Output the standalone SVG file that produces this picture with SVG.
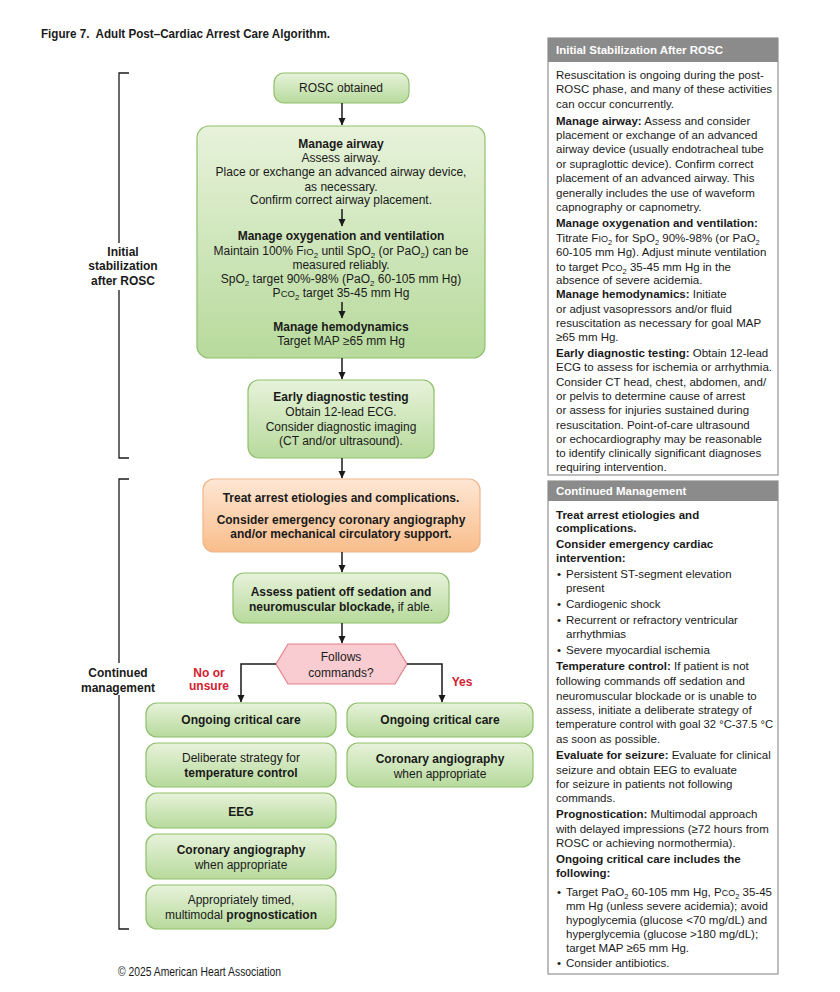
<svg xmlns="http://www.w3.org/2000/svg" width="840" height="992" viewBox="0 0 840 992">
<defs>
<style>
.t{font-family:"Liberation Sans",Arial,sans-serif;font-size:12px;fill:#1a1a1a}
.c{text-anchor:middle}
.b{font-weight:bold}
.p{font-size:11.5px}
.red{fill:#d3202f;font-weight:bold}
.g{fill:url(#gg);stroke:#8fc06d;stroke-width:1.2}
.o{fill:url(#og);stroke:#f0b58a;stroke-width:1.2}
.br{fill:none;stroke:#1a1a1a;stroke-width:1.3}
.ar{fill:none;stroke:#1a1a1a;stroke-width:1.5;marker-end:url(#ah)}
.hd{fill:#8b8b8b}
.pb{fill:#fff;stroke:#9b9b9b;stroke-width:1.3}
.w{fill:#fff;font-weight:bold}
</style>
<linearGradient id="gg" x1="0" y1="0" x2="0" y2="1"><stop offset="0" stop-color="#e7f2da"/><stop offset="1" stop-color="#b7da9c"/></linearGradient>
<linearGradient id="og" x1="0" y1="0" x2="0" y2="1"><stop offset="0" stop-color="#fee7d4"/><stop offset="1" stop-color="#f9bd8b"/></linearGradient>
<marker id="ah" markerWidth="8" markerHeight="8" refX="7" refY="4" orient="auto" markerUnits="userSpaceOnUse"><path d="M0,0.5 L7.5,4 L0,7.5 z" fill="#1a1a1a"/></marker>
</defs>
<rect width="840" height="992" fill="#fff"/>
<text class="t b" x="41" y="38" font-size="13" textLength="289" lengthAdjust="spacingAndGlyphs" xml:space="preserve">Figure 7.  Adult Post–Cardiac Arrest Care Algorithm.</text>

<g id="brackets">
<path class="br" d="M129,73 H119 V243 M119,290 V458 H129"/>
<path class="br" d="M129,479 H119 V663 M119,695 V929 H129"/>
<text class="t b c" x="123" y="256">Initial</text>
<text class="t b c" x="123" y="270">stabilization</text>
<text class="t b c" x="123" y="285">after ROSC</text>
<text class="t b c" x="118" y="677">Continued</text>
<text class="t b c" x="118" y="692">management</text>
</g>

<g id="rosc">
<rect class="g" x="274" y="73" width="135" height="30" rx="10"/>
<text class="t c" x="341" y="92">ROSC obtained</text>
</g>

<g id="stabilize">
<rect class="g" x="197" y="126" width="288" height="232" rx="12"/>
<text class="t c b" x="341" y="148">Manage airway</text>
<text class="t c" x="341" y="162">Assess airway.</text>
<text class="t c" x="341" y="176">Place or exchange an advanced airway device,</text>
<text class="t c" x="341" y="191">as necessary.</text>
<text class="t c" x="341" y="204">Confirm correct airway placement.</text>
<text class="t c b" x="341" y="240">Manage oxygenation and ventilation</text>
<text class="t c" x="341" y="255">Maintain 100% F<tspan font-size="9.5">IO</tspan><tspan dy="2.5" font-size="8">2</tspan><tspan dy="-2.5"> until SpO</tspan><tspan dy="2.5" font-size="8">2</tspan><tspan dy="-2.5"> (or PaO</tspan><tspan dy="2.5" font-size="8">2</tspan><tspan dy="-2.5">) can be</tspan></text>
<text class="t c" x="341" y="269">measured reliably.</text>
<text class="t c" x="341" y="283">SpO<tspan dy="2.5" font-size="8">2</tspan><tspan dy="-2.5"> target 90%-98% (PaO</tspan><tspan dy="2.5" font-size="8">2</tspan><tspan dy="-2.5"> 60-105 mm Hg)</tspan></text>
<text class="t c" x="341" y="297">P<tspan font-size="9.5">CO</tspan><tspan dy="2.5" font-size="8">2</tspan><tspan dy="-2.5"> target 35-45 mm Hg</tspan></text>
<text class="t c b" x="341" y="331">Manage hemodynamics</text>
<text class="t c" x="341" y="345">Target MAP ≥65 mm Hg</text>
</g>

<g id="diagnostic">
<rect class="g" x="248" y="380" width="186" height="78" rx="11"/>
<text class="t c b" x="341" y="401">Early diagnostic testing</text>
<text class="t c" x="341" y="416">Obtain 12-lead ECG.</text>
<text class="t c" x="341" y="431">Consider diagnostic imaging</text>
<text class="t c" x="341" y="445">(CT and/or ultrasound).</text>
</g>

<g id="treat">
<rect class="o" x="203" y="479" width="277" height="73" rx="11"/>
<text class="t c b" x="341" y="502">Treat arrest etiologies and complications.</text>
<text class="t c b" x="341" y="524">Consider emergency coronary angiography</text>
<text class="t c b" x="341" y="538">and/or mechanical circulatory support.</text>
</g>

<g id="assess">
<rect class="g" x="233" y="573" width="216" height="50" rx="11"/>
<text class="t c b" x="341" y="596">Assess patient off sedation and</text>
<text class="t c" x="341" y="611"><tspan class="b">neuromuscular blockade,</tspan> if able.</text>
</g>

<g id="decision">
<polygon points="276,664 288,644 395,644 407,664 395,684 288,684" fill="#f9ccd1" stroke="#e3808b" stroke-width="1.2"/>
<text class="t c" x="341" y="661">Follows</text>
<text class="t c" x="341" y="677">commands?</text>
<text class="t c red" x="209" y="677">No or</text>
<text class="t c red" x="209" y="690">unsure</text>
<text class="t c red" x="462" y="686">Yes</text>
</g>

<g id="no-care">
<rect class="g" x="146" y="703" width="190" height="34" rx="11"/>
<text class="t c b" x="241" y="724">Ongoing critical care</text>
</g>
<g id="no-temp">
<rect class="g" x="146" y="743" width="190" height="44" rx="11"/>
<text class="t c" x="241" y="762">Deliberate strategy for</text>
<text class="t c b" x="241" y="777">temperature control</text>
</g>
<g id="no-eeg">
<rect class="g" x="146" y="793" width="190" height="35" rx="11"/>
<text class="t c b" x="241" y="816">EEG</text>
</g>
<g id="no-angio">
<rect class="g" x="146" y="834" width="190" height="45" rx="11"/>
<text class="t c b" x="241" y="854">Coronary angiography</text>
<text class="t c" x="241" y="869">when appropriate</text>
</g>
<g id="no-prog">
<rect class="g" x="146" y="885" width="190" height="44" rx="11"/>
<text class="t c" x="241" y="904">Appropriately timed,</text>
<text class="t c" x="241" y="919">multimodal <tspan class="b">prognostication</tspan></text>
</g>
<g id="yes-care">
<rect class="g" x="347" y="703" width="186" height="34" rx="11"/>
<text class="t c b" x="440" y="724">Ongoing critical care</text>
</g>
<g id="yes-angio">
<rect class="g" x="347" y="743" width="186" height="44" rx="11"/>
<text class="t c b" x="440" y="763">Coronary angiography</text>
<text class="t c" x="440" y="778">when appropriate</text>
</g>

<g id="connectors">
<path class="ar" d="M342,103 V125"/>
<path class="ar" d="M342,209 V226"/>
<path class="ar" d="M342,302 V318"/>
<path class="ar" d="M342,358 V379"/>
<path class="ar" d="M342,458 V478"/>
<path class="ar" d="M342,552 V572"/>
<path class="ar" d="M342,623 V643"/>
<path class="ar" d="M276,664 H241 V702"/>
<path class="ar" d="M407,664 H442 V702"/>
</g>

<text class="t" x="118" y="976" font-size="10" textLength="163" lengthAdjust="spacingAndGlyphs">© 2025 American Heart Association</text>

<g id="panel-initial">
<rect class="pb" x="548" y="38" width="230" height="437"/>
<rect class="hd" x="548" y="38" width="230" height="24"/>
<text class="t p w" x="556" y="54">Initial Stabilization After ROSC</text>
<g class="t p">
<text x="556" y="79">Resuscitation is ongoing during the post-</text>
<text x="556" y="93">ROSC phase, and many of these activities</text>
<text x="556" y="108">can occur concurrently.</text>
<text x="556" y="125"><tspan class="b">Manage airway:</tspan> Assess and consider</text>
<text x="556" y="139">placement or exchange of an advanced</text>
<text x="556" y="153">airway device (usually endotracheal tube</text>
<text x="556" y="168">or supraglottic device). Confirm correct</text>
<text x="556" y="182">placement of an advanced airway. This</text>
<text x="556" y="197">generally includes the use of waveform</text>
<text x="556" y="211">capnography or capnometry.</text>
<text x="556" y="227" class="b">Manage oxygenation and ventilation:</text>
<text x="556" y="242">Titrate F<tspan font-size="9">IO</tspan><tspan dy="2.5" font-size="7.5">2</tspan><tspan dy="-2.5"> for SpO</tspan><tspan dy="2.5" font-size="7.5">2</tspan><tspan dy="-2.5"> 90%-98% (or PaO</tspan><tspan dy="2.5" font-size="7.5">2</tspan></text>
<text x="556" y="256">60-105 mm Hg). Adjust minute ventilation</text>
<text x="556" y="271">to target P<tspan font-size="9">CO</tspan><tspan dy="2.5" font-size="7.5">2</tspan><tspan dy="-2.5"> 35-45 mm Hg in the</tspan></text>
<text x="556" y="284">absence of severe acidemia.</text>
<text x="556" y="298"><tspan class="b">Manage hemodynamics:</tspan> Initiate</text>
<text x="556" y="313">or adjust vasopressors and/or fluid</text>
<text x="556" y="327">resuscitation as necessary for goal MAP</text>
<text x="556" y="341">≥65 mm Hg.</text>
<text x="556" y="357"><tspan class="b">Early diagnostic testing:</tspan> Obtain 12-lead</text>
<text x="556" y="371">ECG to assess for ischemia or arrhythmia.</text>
<text x="556" y="386">Consider CT head, chest, abdomen, and/</text>
<text x="556" y="400">or pelvis to determine cause of arrest</text>
<text x="556" y="414">or assess for injuries sustained during</text>
<text x="556" y="429">resuscitation. Point-of-care ultrasound</text>
<text x="556" y="443">or echocardiography may be reasonable</text>
<text x="556" y="457">to identify clinically significant diagnoses</text>
<text x="556" y="471">requiring intervention.</text>
</g>
</g>

<g id="panel-continued">
<rect class="pb" x="548" y="481" width="230" height="493"/>
<rect class="hd" x="548" y="481" width="230" height="20"/>
<text class="t p w" x="556" y="495">Continued Management</text>
<g class="t p">
<text x="556" y="519" class="b">Treat arrest etiologies and</text>
<text x="556" y="532" class="b">complications.</text>
<text x="556" y="548" class="b">Consider emergency cardiac</text>
<text x="556" y="562" class="b">intervention:</text>
<text x="557" y="578">•</text><text x="566" y="578">Persistent ST-segment elevation</text>
<text x="566" y="592">present</text>
<text x="557" y="608">•</text><text x="566" y="608">Cardiogenic shock</text>
<text x="557" y="624">•</text><text x="566" y="624">Recurrent or refractory ventricular</text>
<text x="566" y="638">arrhythmias</text>
<text x="557" y="654">•</text><text x="566" y="654">Severe myocardial ischemia</text>
<text x="556" y="670"><tspan class="b">Temperature control:</tspan> If patient is not</text>
<text x="556" y="685">following commands off sedation and</text>
<text x="556" y="700">neuromuscular blockade or is unable to</text>
<text x="556" y="714">assess, initiate a deliberate strategy of</text>
<text x="556" y="728" textLength="217" lengthAdjust="spacingAndGlyphs">temperature control with goal 32 °C-37.5 °C</text>
<text x="556" y="743">as soon as possible.</text>
<text x="556" y="759"><tspan class="b">Evaluate for seizure:</tspan> Evaluate for clinical</text>
<text x="556" y="774">seizure and obtain EEG to evaluate</text>
<text x="556" y="788">for seizure in patients not following</text>
<text x="556" y="802">commands.</text>
<text x="556" y="818"><tspan class="b">Prognostication:</tspan> Multimodal approach</text>
<text x="556" y="833">with delayed impressions (≥72 hours from</text>
<text x="556" y="847">ROSC or achieving normothermia).</text>
<text x="556" y="863" class="b">Ongoing critical care includes the</text>
<text x="556" y="877" class="b">following:</text>
<text x="557" y="896">•</text><text x="566" y="896">Target PaO<tspan dy="2.5" font-size="7.5">2</tspan><tspan dy="-2.5"> 60-105 mm Hg, P</tspan><tspan font-size="9">CO</tspan><tspan dy="2.5" font-size="7.5">2</tspan><tspan dy="-2.5"> 35-45</tspan></text>
<text x="566" y="910">mm Hg (unless severe acidemia); avoid</text>
<text x="566" y="924">hypoglycemia (glucose &lt;70 mg/dL) and</text>
<text x="566" y="938">hyperglycemia (glucose &gt;180 mg/dL);</text>
<text x="566" y="952">target MAP ≥65 mm Hg.</text>
<text x="557" y="967">•</text><text x="566" y="967">Consider antibiotics.</text>
</g>
</g>
</svg>
